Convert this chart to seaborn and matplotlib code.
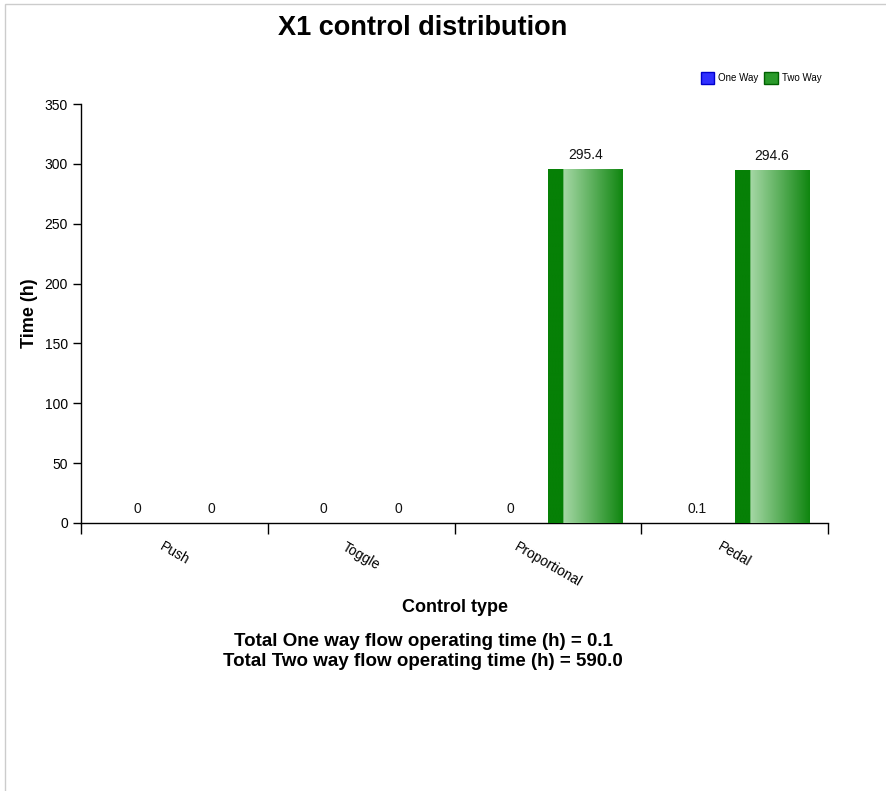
"""X1 control distribution chart"""
import numpy as np
import pandas as pd
import seaborn as sns
import matplotlib.pyplot as plt
from matplotlib.colors import LinearSegmentedColormap
from matplotlib.patches import Rectangle, FancyBboxPatch

categories = ['Push', 'Toggle', 'Proportional', 'Pedal']
one_way = [0, 0, 0, 0.1]
two_way = [0, 0, 295.4, 294.6]
series = ['One Way', 'Two Way']
value_labels = {'One Way': ['0', '0', '0', '0.1'],
                'Two Way': ['0', '0', '295.4', '294.6']}
total_one = 0.1
total_two = 590.0

df = pd.DataFrame({
    'Control type': categories * 2,
    'Time (h)': one_way + two_way,
    'Flow': ['One Way'] * 4 + ['Two Way'] * 4,
})

sns.set_style('white')
plt.rcParams['font.family'] = ['Liberation Sans', 'DejaVu Sans']
plt.rcParams['text.color'] = 'black'
plt.rcParams['axes.labelcolor'] = 'black'
plt.rcParams['xtick.color'] = 'black'
plt.rcParams['ytick.color'] = 'black'

fig = plt.figure(figsize=(8.86, 7.91), dpi=100)
ax = fig.add_axes([81 / 886, 1 - 523 / 791, (828 - 81) / 886, (523 - 104) / 791])

sns.barplot(data=df, x='Control type', y='Time (h)', hue='Flow',
            palette={'One Way': '#0000ff', 'Two Way': '#008000'},
            width=0.8, saturation=1, legend=False, ax=ax)

# gradient fill over each bar: dark strip on the left, then light -> dark
cmaps = {
    'One Way': LinearSegmentedColormap.from_list(
        'b', [(0, '#0000ee'), (0.2, '#0000ee'), (0.2001, '#a8a8f0'), (1, '#1010dd')]),
    'Two Way': LinearSegmentedColormap.from_list(
        'g', [(0, '#068006'), (0.2, '#068006'), (0.2001, '#a6d8a6'), (1, '#108610')]),
}
grad = np.linspace(0, 1, 200).reshape(1, -1)
for container, name in zip(ax.containers, series):
    for bar in container:
        h = bar.get_height()
        if h <= 0:
            continue
        x0 = bar.get_x()
        im = ax.imshow(grad, cmap=cmaps[name], aspect='auto',
                       extent=[x0, x0 + bar.get_width(), 0, h], zorder=3)
        im.set_clip_path(bar)
    ax.bar_label(container, labels=value_labels[name], padding=5, fontsize=10, color='#111111')

ax.set_xlim(-0.5, 3.5)
ax.set_ylim(0, 350)
ax.set_yticks(range(0, 351, 50))
ax.set_xticks(range(4))
ax.set_xticklabels(categories, rotation=-30, ha='center', fontsize=10)
ax.set_xticks([-0.5, 0.5, 1.5, 2.5, 3.5], minor=True)
ax.tick_params(axis='x', which='major', length=0, pad=12)
ax.tick_params(axis='x', which='minor', length=8, width=1, direction='out', color='black')
ax.tick_params(axis='y', length=6, width=1, direction='out', labelsize=10, color='black')
ax.xaxis.set_tick_params(bottom=True, which='minor')
ax.yaxis.set_tick_params(left=True)
sns.despine(ax=ax)
for s in ['left', 'bottom']:
    ax.spines[s].set_color('black')
    ax.spines[s].set_linewidth(1)

ax.set_xlabel('Control type', fontsize=13, fontweight='bold')
ax.set_ylabel('Time (h)', fontsize=13, fontweight='bold')
ax.xaxis.set_label_coords(0.5, -(607 - 523) / 419, transform=ax.transAxes)
ax.yaxis.set_label_coords(-(81 - 30) / 747, 0.5, transform=ax.transAxes)
ax.xaxis.label.set_va('center')
ax.yaxis.label.set_va('center')

fig.text(423 / 886, 1 - 28 / 791, 'X1 control distribution', ha='center', va='center',
         fontsize=19.5, fontweight='bold')
fig.text(423 / 886, 1 - 642 / 791, f'Total One way flow operating time (h) = {total_one:.1f}',
         ha='center', va='center', fontsize=13.5, fontweight='bold')
fig.text(423 / 886, 1 - 662 / 791, f'Total Two way flow operating time (h) = {total_two:.1f}',
         ha='center', va='center', fontsize=13.5, fontweight='bold')

# legend
handles = [FancyBboxPatch((0, 0), 1, 1, boxstyle='round,pad=0.1', facecolor=c, edgecolor=e)
           for c, e in [('#3030ff', '#0000cc'), ('#2a9a2a', '#006000')]]
fig.legend(handles, series, loc='upper right', bbox_to_anchor=(830 / 886, 1 - 63 / 791),
           ncol=2, frameon=False, fontsize=7, handlelength=1.4, handleheight=1.5,
           columnspacing=0.6, handletextpad=0.4)

# light frame around page
fig.patches.append(Rectangle((5 / 886, -0.1), 1.2, 1 - 4 / 791 + 0.1, transform=fig.transFigure,
                             fill=False, edgecolor='#cccccc', linewidth=1))

fig.savefig('out.png', dpi=100)
plt.close(fig)
